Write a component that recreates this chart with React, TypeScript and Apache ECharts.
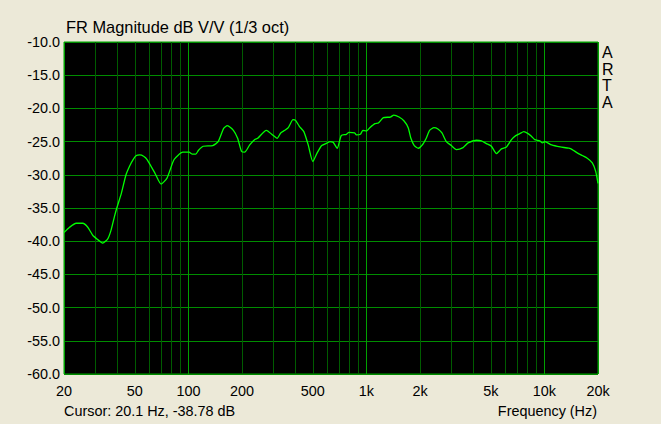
import React, { useEffect, useRef } from "react";
import * as echarts from "echarts";

const freqs = [
  20, 21.5, 23.4, 25.5, 27.2, 29.0, 31.1, 33.0, 35.3, 36.8, 38.4, 39.6, 42.0, 44.6, 46.7, 48.9, 51.0, 53.3, 56, 58.6,
  64.7, 70.2, 75.8, 83.1, 93, 100.8, 105.3, 110, 114, 121, 137, 147, 157.8, 165.5, 178.9, 189, 198.9, 207, 221, 236,
  245, 274, 297, 315, 330, 348, 364, 387, 400, 420, 445, 471, 500, 529, 561, 603, 624, 650, 686, 722,
  772, 797, 859, 878, 925, 956, 1000, 1045, 1117, 1167, 1246, 1364, 1425, 1525, 1628, 1717, 1778, 1857, 1958, 2075,
  2168, 2264, 2396, 2522, 2657, 2811, 3000, 3201, 3491, 3726, 4146, 4426, 4720, 5037, 5374, 5735, 6120, 6530, 6902, 7269,
  7656, 8097, 8449, 8818, 9414, 9752, 10048, 10980, 12270, 13720, 14330, 15290, 16320, 17410, 18580, 19420, 20000,
];
const magnitudeDb = [
  -38.7, -37.9, -37.3, -37.3, -37.9, -39.1, -39.8, -40.3, -39.6, -38.3, -36.3, -35.0, -32.8, -30.0, -28.7, -27.7, -27.1, -27.0, -27.2, -27.7,
  -29.7, -31.4, -30.5, -27.7, -26.6, -26.6, -26.9, -26.9, -26.3, -25.7, -25.6, -25.0, -23.0, -22.6, -23.3, -24.5, -26.5, -26.6, -25.5, -24.7,
  -24.5, -23.3, -24.0, -24.5, -23.7, -23.3, -22.9, -21.7, -21.8, -22.7, -23.5, -25.5, -28.0, -26.7, -25.6, -25.2, -25.0, -25.1, -26.0, -24.1,
  -23.9, -23.6, -23.7, -24.0, -23.9, -23.3, -23.4, -22.9, -22.3, -22.2, -21.4, -21.3, -21.0, -21.3, -21.9, -22.9, -24.5, -25.6, -26.0, -25.4,
  -24.5, -23.3, -22.9, -23.1, -23.7, -25.0, -25.6, -26.2, -25.9, -25.2, -24.8, -24.9, -25.3, -25.7, -26.8, -26.1, -25.8, -24.7, -24.1, -23.8,
  -23.5, -23.8, -24.2, -24.7, -24.9, -25.2, -25.0, -25.5, -25.8, -26.0, -26.2, -26.7, -27.1, -27.5, -28.2, -29.5, -31.3,
];

const minorGridFreqs = [30, 40, 50, 60, 70, 80, 90, 200, 300, 400, 500, 600, 700, 800, 900, 2000, 3000, 4000, 5000, 6000, 7000, 8000, 9000];
const majorGridFreqs = [20, 100, 1000, 10000, 20000];
const tickFreqs = [20, 50, 100, 200, 500, 1000, 2000, 5000, 10000, 20000];
const tickLabels = ["20", "50", "100", "200", "500", "1k", "2k", "5k", "10k", "20k"];

const titleText = "FR Magnitude dB V/V (1/3 oct)";
const cursorText = "Cursor: 20.1 Hz, -38.78 dB";
const xAxisName = "Frequency (Hz)";
const brandText = "ARTA";

const FONT = "'Liberation Sans', Arial, sans-serif";

export default function App() {
  const ref = useRef<HTMLDivElement>(null);
  useEffect(() => {
    if (!ref.current) return;
    const chart = echarts.init(ref.current, undefined, { renderer: "svg" });
    const gridFreqs = [...minorGridFreqs, ...majorGridFreqs].sort((a, b) => a - b);
    const markData = gridFreqs.map((f) => {
      const ti = tickFreqs.indexOf(f);
      const major = majorGridFreqs.includes(f);
      return {
        xAxis: f,
        lineStyle: { color: major ? "#00A000" : "#005C00", width: 1, type: "solid" },
        label: ti >= 0 ? { show: true, formatter: tickLabels[ti] } : { show: false },
      };
    });
    chart.setOption({
      animation: false,
      backgroundColor: "#ECE9D8",
      title: {
        text: titleText,
        left: 66,
        top: 19,
        padding: 0,
        textStyle: { fontFamily: FONT, fontSize: 16.4, fontWeight: "normal", color: "#000" },
      },
      grid: {
        left: 64,
        top: 42,
        right: 63,
        bottom: 50,
        show: true,
        backgroundColor: "#000",
        borderColor: "#00A000",
        borderWidth: 1,
      },
      xAxis: {
        type: "log",
        logBase: 10,
        min: 20,
        max: 20000,
        axisLine: { show: false },
        axisTick: { show: false },
        axisLabel: { show: false },
        splitLine: { show: false },
      },
      yAxis: {
        type: "value",
        min: -60,
        max: -10,
        interval: 5,
        axisLine: { show: false },
        axisTick: { show: false },
        axisLabel: {
          margin: 4,
          formatter: (v: number) => v.toFixed(1),
          fontFamily: FONT,
          fontSize: 14.4,
          color: "#000",
        },
        splitLine: { show: true, lineStyle: { color: "#008C00", width: 1 } },
      },
      graphic: [
        {
          type: "text",
          left: 64,
          top: 404,
          style: { text: cursorText, font: `14.4px ${FONT}`, fill: "#000" },
        },
        {
          type: "text",
          right: 64,
          top: 404,
          style: { text: xAxisName, font: `14.4px ${FONT}`, fill: "#000" },
        },
        {
          type: "text",
          left: 602,
          top: 44,
          style: {
            text: brandText.split("").join("\n"),
            font: `16px ${FONT}`,
            lineHeight: 16.7,
            fill: "#000",
            align: "left",
          },
        },
      ],
      series: [
        {
          type: "line",
          data: [],
          z: 1,
          silent: true,
          markLine: {
            silent: true,
            z: 1,
            symbol: ["none", "none"],
            animation: false,
            label: {
              position: "start",
              distance: 10,
              fontFamily: FONT,
              fontSize: 14.4,
              color: "#000",
            },
            data: markData,
          },
        },
        {
          type: "line",
          z: 3,
          data: freqs.map((f, i) => [f, magnitudeDb[i]]),
          showSymbol: false,
          symbol: "none",
          smooth: 0.2,
          lineStyle: { color: "#00FF00", width: 1.3 },
        },
      ],
    });
    return () => chart.dispose();
  }, []);
  return <div ref={ref} style={{ position: "fixed", left: 0, top: 0, width: 661, height: 424 }} />;
}
